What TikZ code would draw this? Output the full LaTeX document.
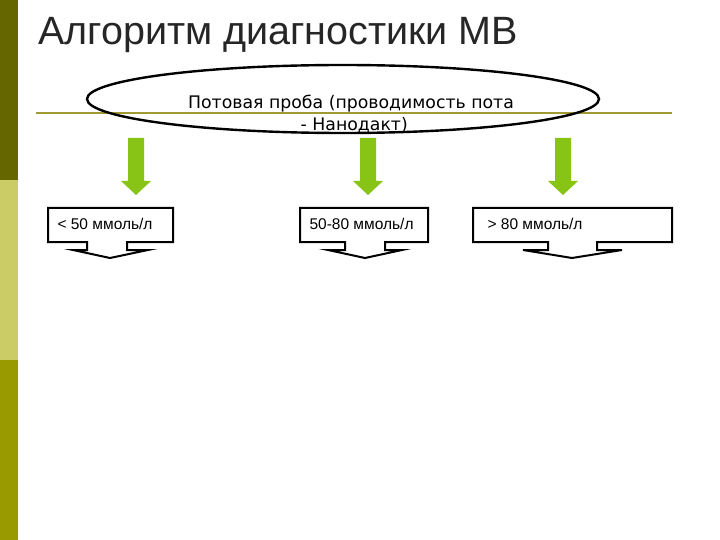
\documentclass[tikz,border=0pt]{standalone}
\usepackage{fontspec}
\setmainfont{Liberation Sans}
\newfontfamily\dv{DejaVu Sans}
\definecolor{oliveA}{HTML}{666600}
\definecolor{oliveB}{HTML}{CCCC66}
\definecolor{oliveC}{HTML}{999900}
\definecolor{lineol}{HTML}{A09A30}
\definecolor{grn}{HTML}{88C416}
\begin{document}
\begin{tikzpicture}[x=1pt,y=-1pt,
  garrow/.style={fill=grn,draw=none},
  callout/.style={draw=black,line width=2pt,fill=white,line join=miter},
  lbl/.style={anchor=west,font=\fontsize{15.5}{18}\selectfont}]
\useasboundingbox (0,0) rectangle (720,540);
\fill[white] (0,0) rectangle (720,540);
\fill[oliveA] (0,0) rectangle (18,180);
\fill[oliveB] (0,180) rectangle (18,360);
\fill[oliveC] (0,360) rectangle (18,540);
\node[anchor=base west,inner sep=0,font=\fontsize{39.5}{44}\selectfont,text=black!85] (title) at (38,45) {Алгоритм диагностики МВ};
\draw[lineol,line width=1.5pt] (36,113) -- (672,113);
\draw[line width=2.4pt] (343,99) ellipse (256 and 34);
\node[anchor=base,inner sep=0,font=\dv\fontsize{17.3}{20}\selectfont] (t1) at (351,109) {Потовая проба (проводимость пота};
\node[anchor=base east,inner sep=0,font=\dv\fontsize{17.3}{20}\selectfont] (t2) at (408,131) {- Нанодакт)};
\foreach \c in {136,368,563}{
  \fill[garrow] (\c-8,138) -- (\c+8,138) -- (\c+8,181) -- (\c+15,181) -- (\c,195) -- (\c-15,181) -- (\c-8,181) -- cycle;
}
\draw[callout] (48,208) -- (173,208) -- (173,242) -- (127,242) -- (127,250) -- (148,250) -- (110,258) -- (73,250) -- (87,250) -- (87,242) -- (48,242) -- cycle;
\draw[callout] (300,208) -- (428,208) -- (428,242) -- (385,242) -- (385,250) -- (402,250) -- (365,258) -- (328,250) -- (345,250) -- (345,242) -- (300,242) -- cycle;
\draw[callout] (473,208) -- (672,208) -- (672,242) -- (597,242) -- (597,250) -- (622,250) -- (572,258) -- (523,250) -- (548,250) -- (548,242) -- (473,242) -- cycle;
\node[lbl] (b1) at (54,224) {< 50 ммоль/л};
\node[lbl] (b2) at (306,224) {50-80 ммоль/л};
\node[lbl] (b3) at (484,224) {> 80 ммоль/л};
\end{tikzpicture}
\end{document}
